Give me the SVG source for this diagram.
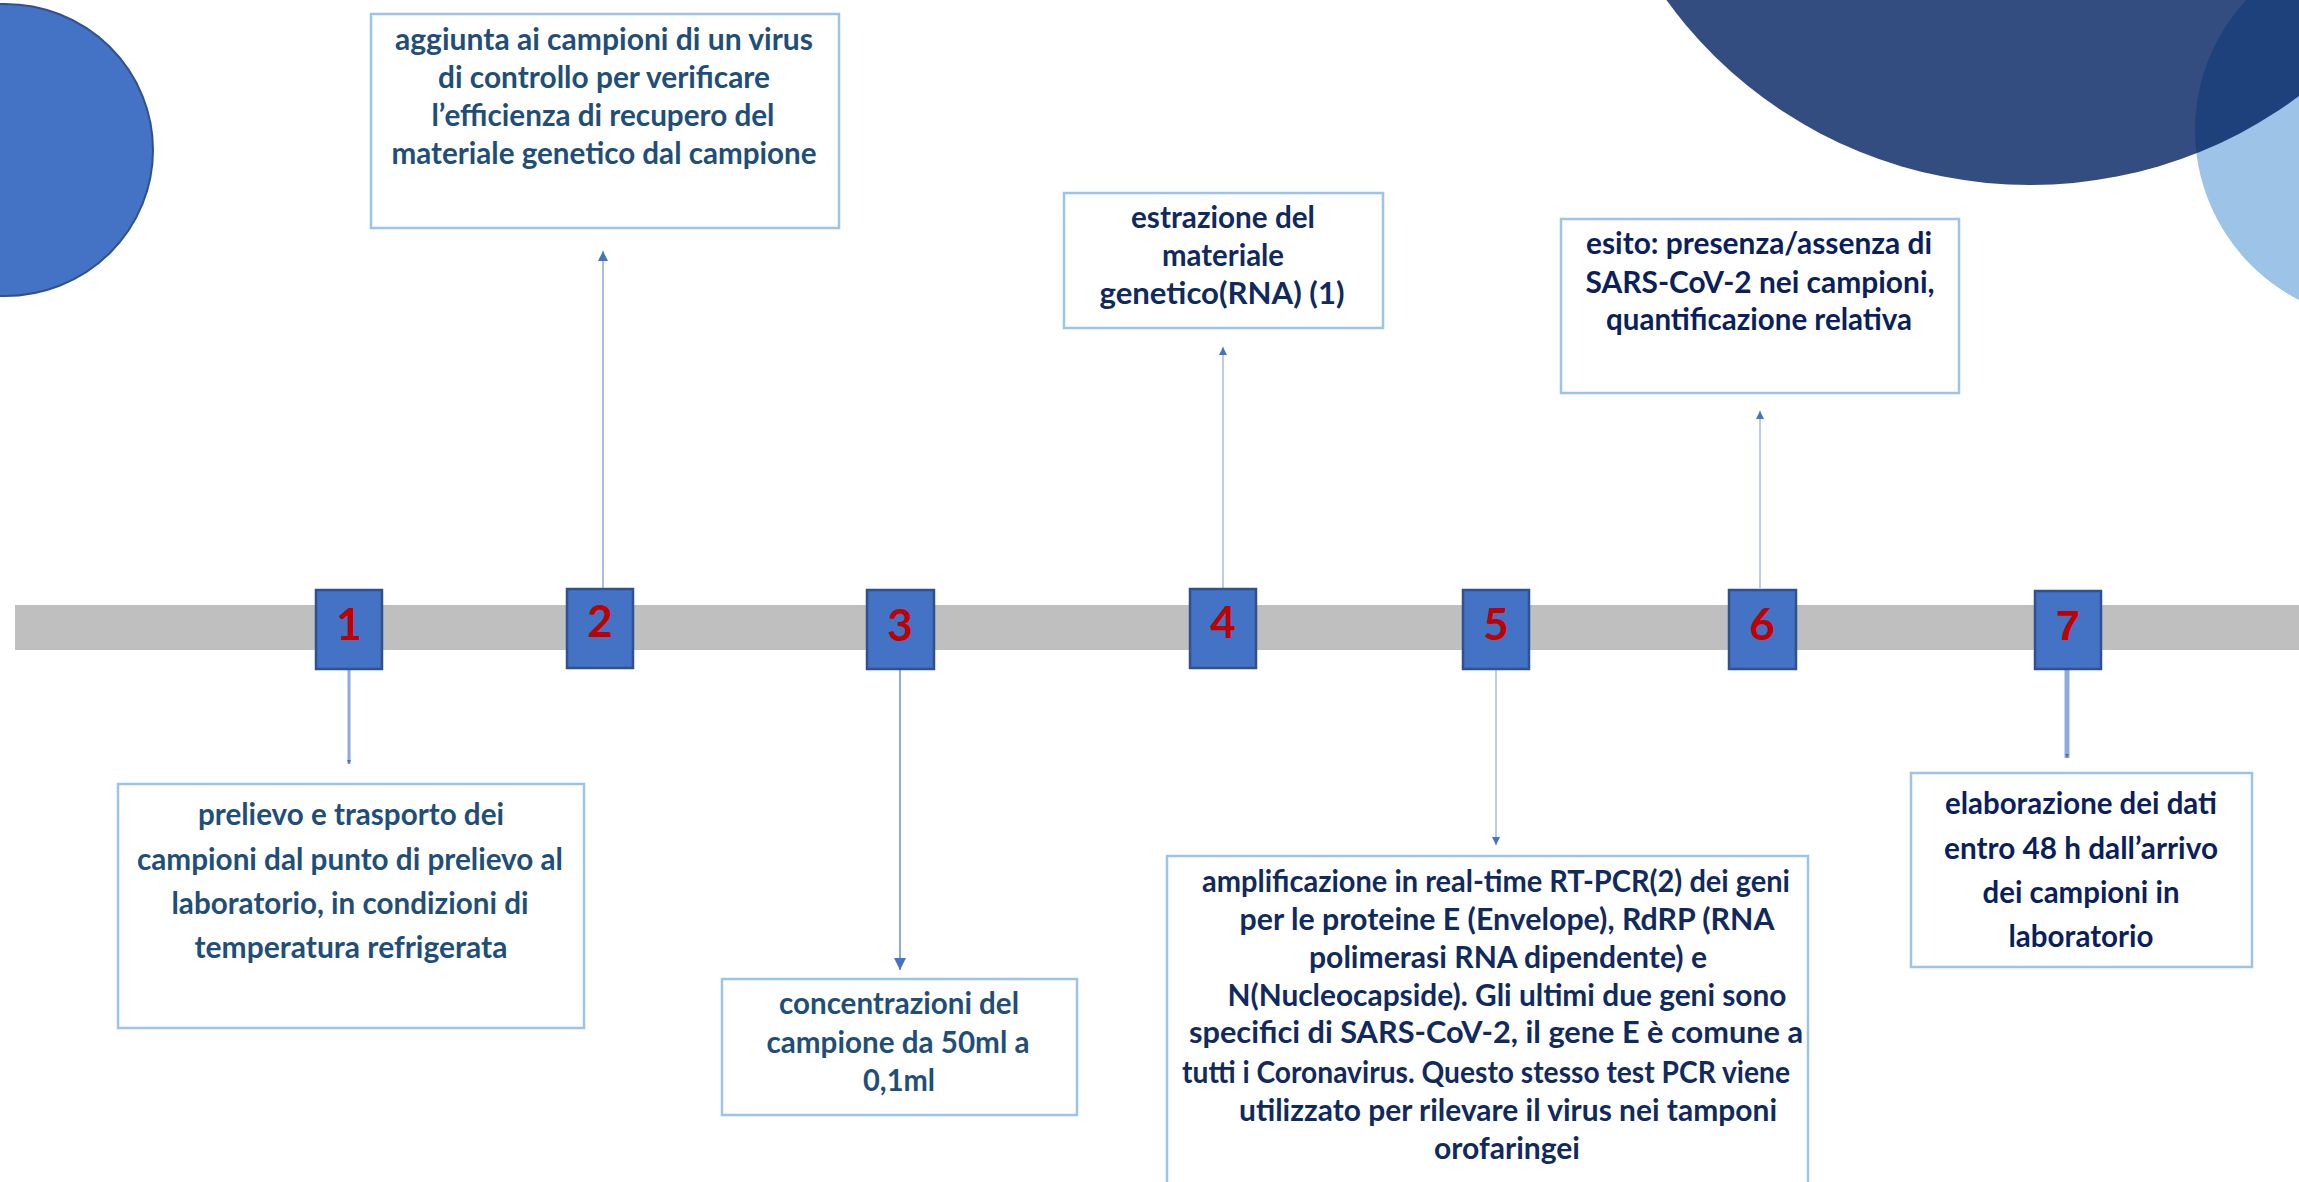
<svg xmlns="http://www.w3.org/2000/svg" width="2299" height="1182" viewBox="0 0 2299 1182">
<style>
.bg{fill:#ffffff}
.tbox{fill:#ffffff;stroke:#9DC3E6;stroke-width:2.5}
.mk{fill:#4472C4;stroke:#2F528F;stroke-width:2.5}
.num{font-family:Lato,"Liberation Sans",sans-serif;font-weight:bold;font-size:44px;fill:#C00000;text-anchor:middle}
.num7{font-family:"Liberation Sans",Arial,sans-serif;font-weight:bold;font-size:43px;fill:#C00000;text-anchor:middle}
.t{font-family:Lato,"Liberation Sans",sans-serif;font-weight:bold;font-size:30px;text-anchor:middle}
.c1{fill:#1F4E79}
.c2{fill:#112A5E}
.c3{fill:#0A1F5C}
.ln{stroke:#8FAADC;fill:none}
</style>
<defs>
<marker id="ahS" markerUnits="userSpaceOnUse" viewBox="0 0 10 10" refX="10" refY="5" markerWidth="8" markerHeight="8" orient="auto"><path d="M0,0 L10,5 L0,10 z" fill="#4472C4"/></marker>
<marker id="ahM" markerUnits="userSpaceOnUse" viewBox="0 0 10 10" refX="10" refY="5" markerWidth="10" markerHeight="10" orient="auto"><path d="M0,0 L10,5 L0,10 z" fill="#4472C4"/></marker>
<marker id="ahL" markerUnits="userSpaceOnUse" viewBox="0 0 10 10" refX="10" refY="5" markerWidth="15" markerHeight="12" orient="auto"><path d="M0,0 L10,5 L0,10 z" fill="#4472C4"/></marker>
<marker id="ahF" markerUnits="userSpaceOnUse" viewBox="0 0 10 10" refX="10" refY="5" markerWidth="4" markerHeight="12" orient="auto"><path d="M0,0 L10,5 L0,10 z" fill="#4472C4"/></marker>
</defs>
<rect class="bg" x="0" y="0" width="2299" height="1182"/>

<g id="decor">
<ellipse cx="5" cy="150" rx="148" ry="146" fill="#4472C4" stroke="#2F528F" stroke-width="2"/>
<circle cx="2386" cy="130" r="191" fill="#9DC3E6"/>
<ellipse cx="2030" cy="-252" rx="445" ry="437" fill="#002060" fill-opacity="0.8"/>
<rect x="15" y="605" width="2284" height="45" fill="#BFBFBF"/>
</g>

<g id="connectors">
<line class="ln" x1="349" y1="670" x2="349" y2="764" stroke-width="3" stroke="#B4C7E7" marker-end="url(#ahF)"/>
<line class="ln" x1="603" y1="588" x2="603" y2="251" stroke-width="1.5" marker-end="url(#ahM)"/>
<line class="ln" x1="900" y1="670" x2="900" y2="970" stroke-width="2" marker-end="url(#ahL)"/>
<line class="ln" x1="1223" y1="588" x2="1223" y2="347" stroke-width="1.2" stroke="#A9BEE3" marker-end="url(#ahS)"/>
<line class="ln" x1="1496" y1="670" x2="1496" y2="845" stroke-width="1.2" marker-end="url(#ahS)"/>
<line class="ln" x1="1760" y1="588" x2="1760" y2="411" stroke-width="1.2" stroke="#A9BEE3" marker-end="url(#ahS)"/>
<line class="ln" x1="2067" y1="670" x2="2067" y2="758" stroke-width="5" stroke="#B4C7E7" marker-end="url(#ahF)"/>
</g>

<g id="step1">
<rect class="mk" x="316" y="590" width="66" height="79"/>
<text class="num" x="349" y="640">1</text>
</g>
<g id="step2">
<rect class="mk" x="567" y="589" width="66" height="79"/>
<text class="num" x="600" y="637">2</text>
</g>
<g id="step3">
<rect class="mk" x="867" y="590" width="67" height="79"/>
<text class="num" x="900" y="641">3</text>
</g>
<g id="step4">
<rect class="mk" x="1190" y="589" width="66" height="79"/>
<text class="num" x="1223" y="638">4</text>
</g>
<g id="step5">
<rect class="mk" x="1463" y="590" width="66" height="79"/>
<text class="num" x="1496" y="640">5</text>
</g>
<g id="step6">
<rect class="mk" x="1729" y="590" width="67" height="79"/>
<text class="num" x="1762" y="640">6</text>
</g>
<g id="step7">
<rect class="mk" x="2035" y="591" width="66" height="78"/>
<text class="num7" x="2068" y="640">7</text>
</g>

<g id="box1">
<rect class="tbox" x="118" y="784" width="466" height="244"/>
<text class="t c1" x="351" y="825" textLength="306" lengthAdjust="spacingAndGlyphs">prelievo e trasporto dei</text>
<text class="t c1" x="350" y="870" textLength="426" lengthAdjust="spacingAndGlyphs">campioni dal punto di prelievo al</text>
<text class="t c1" x="350" y="914" textLength="357" lengthAdjust="spacingAndGlyphs">laboratorio, in condizioni di</text>
<text class="t c1" x="351" y="958" textLength="313" lengthAdjust="spacingAndGlyphs">temperatura refrigerata</text>
</g>

<g id="box2">
<rect class="tbox" x="371" y="14" width="468" height="214"/>
<text class="t c1" x="604" y="50" textLength="418" lengthAdjust="spacingAndGlyphs">aggiunta ai campioni di un virus</text>
<text class="t c1" x="604" y="88" textLength="332" lengthAdjust="spacingAndGlyphs">di controllo per verificare</text>
<text class="t c1" x="603" y="126" textLength="343" lengthAdjust="spacingAndGlyphs">l’efficienza di recupero del</text>
<text class="t c1" x="604" y="164" textLength="425" lengthAdjust="spacingAndGlyphs">materiale genetico dal campione</text>
</g>

<g id="box3">
<rect class="tbox" x="722" y="979" width="355" height="136"/>
<text class="t c1" x="899" y="1014" textLength="240" lengthAdjust="spacingAndGlyphs">concentrazioni del</text>
<text class="t c1" x="898" y="1053" textLength="263" lengthAdjust="spacingAndGlyphs">campione da 50ml a</text>
<text class="t c1" x="899" y="1091" textLength="72" lengthAdjust="spacingAndGlyphs">0,1ml</text>
</g>

<g id="box4">
<rect class="tbox" x="1064" y="193" width="319" height="135"/>
<text class="t c2" x="1223" y="228" textLength="184" lengthAdjust="spacingAndGlyphs">estrazione del</text>
<text class="t c2" x="1223" y="266" textLength="122" lengthAdjust="spacingAndGlyphs">materiale</text>
<text class="t c2" x="1222" y="304" textLength="245" lengthAdjust="spacingAndGlyphs">genetico(RNA) (1)</text>
</g>

<g id="box5">
<rect class="tbox" x="1167" y="856" width="641" height="340"/>
<text class="t c2" x="1496" y="892" textLength="588" lengthAdjust="spacingAndGlyphs">amplificazione in real-time RT-PCR(2) dei geni</text>
<text class="t c2" x="1507" y="930" textLength="535" lengthAdjust="spacingAndGlyphs">per le proteine E (Envelope), RdRP (RNA</text>
<text class="t c2" x="1508" y="968" textLength="398" lengthAdjust="spacingAndGlyphs">polimerasi RNA dipendente) e</text>
<text class="t c2" x="1507" y="1006" textLength="559" lengthAdjust="spacingAndGlyphs">N(Nucleocapside). Gli ultimi due geni sono</text>
<text class="t c2" x="1496" y="1043" textLength="614" lengthAdjust="spacingAndGlyphs">specifici di SARS-CoV-2, il gene E è comune a</text>
<text class="t c2" x="1486" y="1083" textLength="608" lengthAdjust="spacingAndGlyphs">tutti i Coronavirus. Questo stesso test PCR viene</text>
<text class="t c2" x="1508" y="1121" textLength="538" lengthAdjust="spacingAndGlyphs">utilizzato per rilevare il virus nei tamponi</text>
<text class="t c2" x="1507" y="1159" textLength="146" lengthAdjust="spacingAndGlyphs">orofaringei</text>
</g>

<g id="box6">
<rect class="tbox" x="1561" y="219" width="398" height="174"/>
<text class="t c3" x="1759" y="254" textLength="346" lengthAdjust="spacingAndGlyphs">esito: presenza/assenza di</text>
<text class="t c3" x="1760" y="293" textLength="349" lengthAdjust="spacingAndGlyphs">SARS-CoV-2 nei campioni,</text>
<text class="t c3" x="1759" y="330" textLength="306" lengthAdjust="spacingAndGlyphs">quantificazione relativa</text>
</g>

<g id="box7">
<rect class="tbox" x="1911" y="773" width="341" height="194"/>
<text class="t c3" x="2081" y="814" textLength="272" lengthAdjust="spacingAndGlyphs">elaborazione dei dati</text>
<text class="t c3" x="2081" y="859" textLength="274" lengthAdjust="spacingAndGlyphs">entro 48 h dall’arrivo</text>
<text class="t c3" x="2081" y="903" textLength="197" lengthAdjust="spacingAndGlyphs">dei campioni in</text>
<text class="t c3" x="2081" y="947" textLength="145" lengthAdjust="spacingAndGlyphs">laboratorio</text>
</g>
</svg>
